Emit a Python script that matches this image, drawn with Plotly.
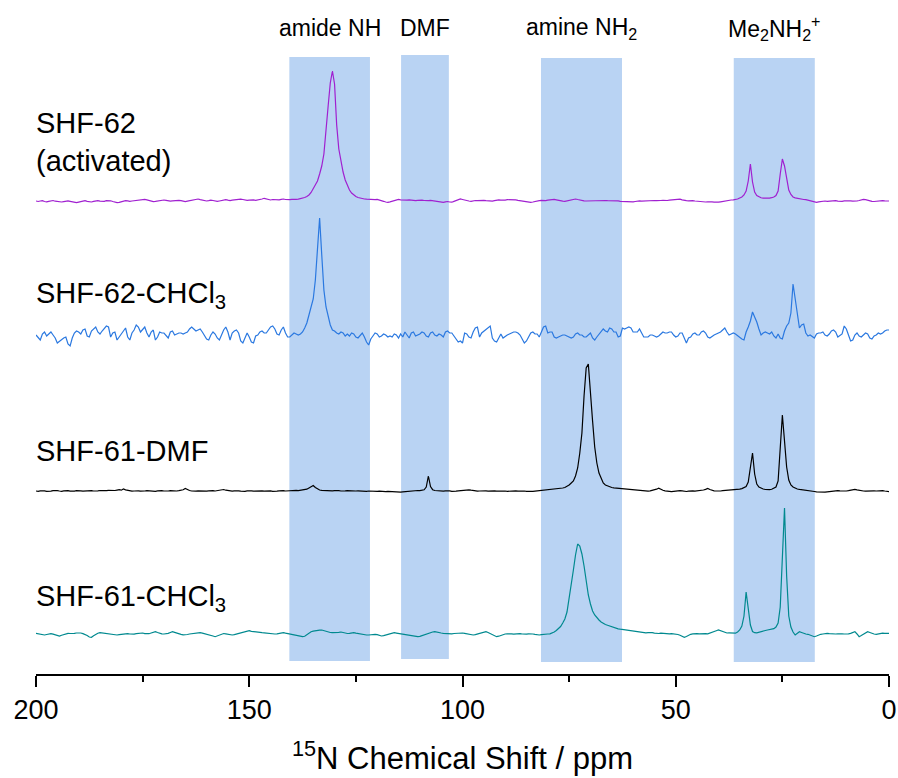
import numpy as np
import plotly.graph_objects as go

# 15N CP-MAS spectra, 0.5 ppm sampling from 200 to 0 ppm (401 points each)
ppm = np.linspace(200, 0, 401)

# Intensities (a.u.) above each trace's baseline, 200 -> 0 ppm
shf62_activated = [
    0, -0.5, 0, 0.3, -0.5, -0.8, -0.3, 0, 0.5, -0.2, -0.7, -0.5, -1, -0.6, -0.2, 0.2, -0.3, -0.8, -1.3, -1.7, -1.2,
    -0.5, 0, 0.3, -0.3, -0.8, -1, -0.4, 0.2, 0.4, -0.2, -0.6, -0.3, 0.3, 0.6, 0.2, -0.5, -1.2, -1.7, -1.3, -0.6,
    0, 0.4, 0.2, -0.3, 0, 0.4, 0.2, 0.5, 1, 1.3, 1.7, 1.2, 0.4, -0.3, -0.6, -0.4, 0, 0.2, 0.6, 1,
    0.7, 0.2, -0.2, 0.1, 0.5, 0.3, 0.7, 0.4, -0.3, -0.6, -0.2, 0.3, 0.7, 1.1, 1.5, 2, 1.4, 0.7, 0.2, 0,
    0.3, 0.9, 0.5, 0, -0.4, 0, 0.4, 0.9, 1.3, 0.8, 0.4, 0.8, 1.2, 0.9, 1.4, 1.8, 1.5, 1, 0.6, 0.9,
    1.3, 1.1, 0.7, 1, 1.5, 2, 2.7, 2, 1.2, 1, 1.5, 1.3, 0.8, 1.2, 1.7, 2, 1.5, 1.2, 1.4, 1.6,
    1.4, 1.6, 1.8, 2.2, 2.6, 3.5, 4.5, 6, 8.5, 12, 16, 20, 27, 35, 47, 68, 95, 118, 130, 117,
    76, 52, 38, 29, 21, 15, 11, 8, 6, 4.5, 3.5, 2.8, 2.3, 2, 1.8, 1.5, 1.2, 1, 1.3, 1.6,
    1.2, 0.5, -0.3, -1, -1.3, -0.8, 0, 0.8, 1.5, 1.7, 1.2, 1, 0.6, 0.8, 1.2, 0.9, 0.5, 0.3, 0.7, 1,
    0.8, 0.5, 0.2, 0.4, 0.6, 0.3, -0.2, -0.6, -1, -1.2, -1.3, -0.8, -0.5, -1, -1.2, -0.4, 0.5, 1.3, 2, 1.5,
    0.8, 0.3, 0, -0.3, 0.2, 0.5, 0.3, 0.6, 1, 0.7, 0.3, 0, -0.4, -0.2, 0.4, 0.9, 1.2, 0.8, 0.5, 0.9,
    1.3, 1.2, 1.5, 1.7, 1.2, 0.6, 0.2, 0.4, 0.1, -0.4, -0.9, -1.3, -1, -0.3, 0.2, 0.4, 0.6, 0.2, 0.4, 0.9,
    1.3, 1.5, 1.7, 1.2, 0.6, 0.2, -0.2, -0.3, 0.1, 0.6, 1.2, 1.6, 2, 1.5, 0.9, 0.4, 0.2, 0, 0.1, 0.4,
    0.6, 0.4, 0.2, 0.7, 1, 0.8, 0.5, 0.3, 0.4, 0.2, 0, 0.3, 0.1, -0.3, -0.5, -0.2, -0.6, -1.1, -1.3, -0.9,
    -0.5, -0.1, 0.1, -0.2, 0, 0.2, 0.1, 0.3, 0.2, 0.5, 0.4, 0.2, 0.5, 0.6, 0.4, 0.5, 0.8, 1.1, 1.5, 1.9,
    2.3, 1.9, 1.2, 0.6, 0.3, 0.2, 0.5, 0.3, 0, -0.3, -0.2, -0.4, -0.8, -1, -0.8, -0.5, -0.8, -1.1, -1.3, -1.2,
    -0.8, -0.3, 0.1, 0.3, 0.6, 1, 1.2, 1.5, 2, 3, 4, 6, 10, 20, 37, 19, 9, 5.5, 4, 3.2,
    2.8, 2.6, 2.6, 2.8, 3.3, 4, 5.5, 10, 27, 42, 35, 22, 11, 6.5, 4, 3.2, 2.6, 2.2, 1.8, 1.5,
    1.3, 0.8, 0.2, -0.4, -0.9, -1.3, -0.8, -0.3, 0.2, 0, -0.4, -0.2, 0.3, 0.6, 0.3, -0.2, -0.5, -0.3, 0.1, 0.3,
    0.5, 0.2, -0.2, -0.4, 0, 0.5, 1, 1.7, 1.3, 0.6, 0.1, -0.3, -0.5, -0.2, 0.2, 0.4, 0.3, 0.1, 0.2, 0,
]

shf62_chcl3 = [
    0, -3, -5, 1, 3, -1, 1, 3, 0, -3, -8, -6, -5, -3, -2, -9, -11, -3, 2, 4, 3,
    1, 5, 6, -1, -2, 4, 6, 8, 3, 1, 4, 7, 9, 8, -2, 2, 3, -5, -2, 2,
    5, 7, -2, -5, 2, 5, 10, 8, 3, 5, 8, 2, -2, 3, 5, -5, -2, 3, 2, 2,
    -1, -3, 3, 4, 0, 1, 2, 2, 1, 2, 3, 6, 8, 6, 4, 5, 6, 3, 0, -4,
    -5, 0, 3, 1, -3, -5, 0, 5, 8, 3, -5, 2, 4, 5, 2, -6, -8, -3, 2, -2,
    -7, -8, -1, 0, 3, 4, 2, 2, 5, 8, 9, 6, 1, 0, 5, 8, 2, -2, -2, 0,
    2, 1, 0, 1, 3, 7, 12, 20, 28, 36, 55, 90, 117, 80, 45, 28, 20, 10, 5, 4,
    2, 1, 3, 2, -1, 1, -1, 2, 1, -2, -3, 0, 2, -2, -7, -10, -4, -1, 2, 1,
    -2, -1, 1, 0, -2, -1, -2, 1, 0, -3, 1, -2, 3, 0, -3, 2, 3, -1, 0, 1,
    3, 2, -1, -2, 2, 3, 0, -1, 1, 0, -2, 3, 4, 2, 2, -1, -4, -7, -6, -8,
    2, 1, -2, -3, 3, 7, 8, -2, 2, 4, 6, 8, 9, -3, -6, -7, -3, 1, -3, -1,
    0, 1, 2, 3, 3, 2, 0, -4, -8, -6, -2, 2, 3, 1, 1, -2, 3, 8, 9, 2,
    3, 3, -2, -3, -2, -1, 0, 0, -1, -2, -3, -2, 1, 2, 0, 0, -2, -2, 0, 2,
    -3, -5, -2, 1, 3, 6, 4, 3, 7, 6, 3, 3, -2, -1, 7, 6, 7, 8, 7, 3,
    3, 3, 6, 2, -2, -2, -2, 0, 0, -1, -2, -1, 1, 3, 2, 2, 3, 3, 0, -2,
    -1, 2, 2, -4, -8, -3, -2, 1, 2, 0, 0, 3, 4, 2, -2, -3, -1, 0, 1, 2,
    3, 5, 7, 3, 0, 1, 2, 1, -1, -2, -4, -5, 3, 8, 14, 23, 18, 13, 6, 0,
    2, 3, 2, 1, 3, -1, -3, 1, -3, -4, 4, 9, 12, 22, 51, 35, 20, 7, 10, 11,
    2, -1, 0, -2, -3, 1, 2, 2, 3, 0, -1, 1, 4, 5, 3, -2, 0, 1, 9, 6,
    0, -6, -5, 0, 2, -1, -2, 0, 2, 1, -3, -4, -1, 0, 2, 1, 2, 4, 5, 5,
]

shf61_dmf = [
    0, -0.3, 0.2, 0.5, 0.2, -0.3, -0.6, -0.2, 0.3, 0.6, 0.4, 0, -0.3, 0.2, 0.6, 0.3, -0.2, -0.5, -0.2, 0.3, 0.5,
    0.2, -0.2, 0, 0.4, 0.7, 0.4, 0, -0.3, 0.1, 0.5, 0.3, 0, 0.3, 0.6, 0.4, 0.2, 0.5, 0.9, 1.3, 0.8,
    2, 1.2, 0.5, 0.1, -0.2, 0, 0.4, 0.2, -0.2, -0.4, 0, 0.3, 0.1, -0.3, -0.6, -0.3, 0.2, 0.5, 0.3, 0,
    -0.3, 0, 0.4, 0.2, -0.2, 0, 0.3, 0.6, 1.2, 2.5, 1.3, 0.5, 0, -0.4, -0.2, 0.2, 0, -0.3, -0.5, -0.2,
    0.2, 0.5, 0.3, 0, 0.3, 0.6, 0.9, 1.5, 0.8, 0.3, 0, -0.2, 0.1, 0.4, 0.2, -0.2, -0.5, -0.3, 0.1, 0.3,
    0.1, -0.2, 0, 0.3, 0.5, 0.2, -0.1, 0.2, 0.4, 0.1, -0.3, -0.5, -0.2, 0.2, 0.5, 0.3, 0, 0.2, 0.4, 0.3,
    0.4, 0.6, 0.3, 0.5, 0.8, 1.2, 1.8, 3, 4.5, 5.5, 3.5, 1.8, 1, 0.6, 0.4, 0.5, 0.7, 0.4, 0.2, 0.3,
    0.5, 0.3, 0, -0.2, 0.1, 0.4, 0.2, -0.1, -0.3, 0, 0.2, -0.1, -0.4, -0.6, -0.3, 0, -0.2, -0.5, -0.7, -0.4,
    -0.2, -0.5, -0.8, -0.6, -0.3, -0.5, -0.9, -1.1, -0.8, -1, -1.2, -0.9, -0.6, -0.3, 0, 0.3, 0.6, 0.8, 0.5, 0.3,
    0.5, 1.2, 4, 15, 4.5, 1.3, 0.5, 0.2, -0.2, -0.4, -0.2, 0.1, 0.3, 0.1, -0.3, -0.5, -0.2, 0.2, 0.5, 0.8,
    0.6, 0.9, 1.2, 0.8, 0.4, 0.1, -0.2, 0, 0.3, 0.5, 0.2, -0.1, 0.2, 0.4, 0.1, -0.2, 0, 0.3, 0.2, 0,
    -0.3, 0, 0.2, 0.4, 0.2, -0.1, 0.1, 0.3, 0, -0.3, -0.5, -0.6, -0.4, -0.2, 0, 0.3, 0.5, 0.7, 0.9, 1.1,
    1.2, 1.4, 1.6, 1.9, 2.2, 2.6, 3, 3.5, 4.5, 6, 8, 10, 15, 23, 38, 58, 95, 123, 127, 95,
    70, 44, 28, 18, 12, 8, 6, 5, 4, 3.5, 3.2, 3, 2.7, 2.5, 2.2, 2, 1.7, 1.5, 1.2, 1,
    0.8, 0.5, 0.2, 0, -0.2, -0.4, -0.2, 0.2, 0.6, 1.2, 1.8, 2.8, 1.6, 0.7, 0.2, -0.2, -0.4, -0.6, -0.3, 0,
    0.2, 0.4, 0.1, -0.3, -0.5, -0.2, 0.2, 0.1, -0.2, 0, 0.3, 0.6, 1, 1.6, 2.6, 1.5, 0.6, 0.2, 0, -0.2,
    0, 0.3, 0.5, 0.4, 0.2, 0.5, 0.8, 1.1, 1.4, 1.8, 2.4, 3.3, 4.5, 9, 22, 38, 17, 7, 4, 2.8,
    2, 1.5, 1.2, 1.3, 1.7, 2.5, 4, 10, 41, 76, 50, 24, 11, 6, 4, 2.8, 2, 1.6, 1.2, 0.8,
    0.5, 0.2, 0, -0.3, -0.5, -0.8, -1, -1.3, -1.5, -1.2, -0.8, -0.5, -0.2, 0, 0.2, 0.4, 0.2, -0.1, -0.3, 0,
    0.3, 0.8, 1.3, 1.7, 1.2, 0.6, 0.2, 0, -0.2, 0, 0.3, 0.5, 0.2, 0, 0.3, 0.6, 0.4, 0, -0.4, -0.6,
]

shf61_chcl3 = [
    0.7, 0.3, -0.3, -0.8, -1, -0.5, 0, 0.3, -0.2, -0.8, -1.5, -2, -1.2, -0.4, 0.3, 0.7, 0.5, 0.2, 0.6, 1, 1.3,
    1, 0.4, -0.2, -1.5, -3, -3.3, -1.8, -0.2, 0.8, 1.3, 1, 0.4, 0, -0.3, -0.1, -0.4, -0.8, -1, -0.6, -0.2,
    0.3, 0.6, 0.4, 0, -0.3, -0.1, 0.3, 0.6, 1.2, 1, 0.4, 0, 0.3, 1, 1.8, 2.3, 1.5, 0.6, 0.1, 0,
    0.2, 0.6, 1.5, 2.3, 1.6, 0.7, 0.2, -0.4, -0.9, -1, -0.5, 0, 0.3, 0.2, 0.5, 0.9, 1.3, 0.9, 0.4, 0.1,
    -0.3, -1, -2, -2.7, -1.8, -0.6, 0.3, 0.5, 0.1, -0.3, -0.8, -1, -0.6, 0, 0.6, 0.8, 1.3, 2, 2.8, 3.3,
    2.6, 2.2, 2, 1.8, 1.5, 1.3, 1.2, 0.9, 0.5, 0.2, 0, 0, 0.2, 0.6, 1, 1.3, 0.8, 0.3, 0, -0.2,
    -0.5, -1, -1.5, -2.2, -2.7, -2.3, -0.8, 0.8, 2.3, 2.8, 3.3, 3.6, 3.9, 4, 3.2, 2.4, 1.8, 1.5, 1.3, 1.2,
    1.4, 1.7, 2, 1.5, 0.9, 0.5, 0.7, 1, 1.3, 0.8, 0.3, 0, -0.3, -0.6, -1, -1, -0.6, -0.2, -0.3, -0.7,
    -1.3, -2, -1.7, -1.2, -0.6, 0, 0.8, 1.3, 0.9, 0.5, 0.3, 0, -0.3, -0.7, -1.3, -2, -2.4, -2.6, -2.7, -2.3,
    -1.5, -0.5, 0.3, 0.8, 1.5, 2, 2.3, 1.7, 1.3, 1, 0.7, 0.4, 0.2, 0, 0.2, 0.5, 0.8, 1.1, 1.3, 1,
    0.6, 0.1, -0.3, -0.7, -1, -0.6, 0, 0.6, 1.2, 1.8, 2.3, 1.5, 0.5, -0.6, -1.8, -2.7, -2.2, -1.3, -0.5, 0,
    0.2, 0.4, 0.1, -0.2, 0.1, 0.5, 0.3, 0, -0.3, -0.2, 0.2, 0.4, 0, -0.4, -0.8, -1, -0.6, -0.2, 0, 0,
    0.2, 0.8, 2, 3.5, 5.5, 7.5, 11, 15, 22, 35, 49, 64, 79, 90, 88, 80, 68, 54, 39, 30,
    23, 19, 16, 14, 12, 10.5, 9.5, 8.8, 8, 7.3, 6.5, 5.8, 5.2, 4.8, 4.5, 4.2, 4, 3.8, 3.4, 3,
    2.6, 2.2, 1.8, 1.4, 1.3, 1.2, 1.3, 1.5, 1.3, 0.8, 0.4, 0.5, 0.8, 0.5, 0.1, -0.2, 0.1, 0.3, 0.2, 0,
    -0.5, -1.3, -2.5, -3.3, -2.5, -1.2, -0.3, 0.2, 0.5, 0.3, 0.1, 0.4, 0.6, 0.3, 0.2, 0.8, 1.7, 2.5, 3.3, 4,
    3.2, 2, 1.2, 1, 1.1, 1, 0.8, 0.8, 2, 4, 8, 18, 42, 24, 9, 2.5, 1.3, 1.2, 1.6, 2.5,
    3, 3.5, 4, 4.5, 5, 5.3, 7, 11, 27, 80, 126, 58, 18, 7, 2, -1, 0.5, 2.3, 1.5, 0.5,
    0, -0.3, -1, -2, -2.7, -2, -1, -0.3, 0, 0.4, 0.6, 0.3, 0, -0.3, 0, 0.2, 0.4, 0.2, 0, -0.2,
    0.1, 0.6, 1.3, 2.3, 0, -2.7, -1.5, 0, 1, 2.3, 1.5, 0.6, 0, -0.3, 0.3, 0.6, 0.8, 0.7, 0.5, 0.7,
]

labels = ["SHF-62<br>(activated)", "SHF-62-CHCl<sub>3</sub>", "SHF-61-DMF", "SHF-61-CHCl<sub>3</sub>"]
spectra = [shf62_activated, shf62_chcl3, shf61_dmf, shf61_chcl3]
offsets = [473, 339, 183, 40]
colors = ["#a020d0", "#2a78e0", "#000000", "#00898f"]
label_y = [532, 379, 223, 76]

# Assignment regions (ppm) and their labels
regions = [(140.6, 121.7), (114.4, 103.2), (81.6, 62.6), (36.4, 17.4)]
region_labels = ["amide NH", "DMF", "amine NH<sub>2</sub>", "Me<sub>2</sub>NH<sub>2</sub><sup>+</sup>"]
region_y = [(13, 617), (15, 619), (12, 616), (12, 616)]

FONT = "Liberation Sans, Arial, Helvetica, sans-serif"

fig = go.Figure()

for vals, off, col in zip(spectra, offsets, colors):
    assert len(vals) == len(ppm)
    fig.add_trace(go.Scatter(
        x=ppm, y=np.array(vals) + off, mode="lines",
        line=dict(color=col, width=1.2), hoverinfo="skip", showlegend=False,
    ))

for (x0, x1), (y0, y1), txt in zip(regions, region_y, region_labels):
    fig.add_shape(type="rect", xref="x", yref="y", x0=x0, x1=x1, y0=y0, y1=y1,
                  fillcolor="#b9d3f3", line=dict(width=0), layer="below")
    fig.add_annotation(x=(x0 + x1) / 2, y=646, xref="x", yref="y", text=txt,
                       showarrow=False, xanchor="center", yanchor="middle",
                       font=dict(family=FONT, size=23, color="black"))

for txt, ly in zip(labels, label_y):
    fig.add_annotation(x=0, y=ly, xref="paper", yref="y", xshift=-2, text=txt,
                       showarrow=False, xanchor="left", yanchor="middle", align="left",
                       font=dict(family=FONT, size=29, color="black"))

fig.update_layout(
    width=898, height=778,
    margin=dict(l=36, r=9, t=0, b=104),
    paper_bgcolor="white", plot_bgcolor="white",
    font=dict(family=FONT, color="black"),
    xaxis=dict(
        range=[200, 0], showgrid=False, zeroline=False,
        showline=True, linecolor="black", linewidth=1.5,
        ticks="outside", ticklen=11, tickwidth=1.5, tickcolor="black",
        tickvals=[200, 150, 100, 50, 0], ticktext=["200", "150", "100", "50", "0"],
        tickfont=dict(family=FONT, size=27, color="black"),
        minor=dict(tickvals=[175, 125, 75, 25], ticks="outside", ticklen=6,
                   tickwidth=1.5, tickcolor="black"),
        title=dict(text="<sup>15</sup>N Chemical Shift / ppm",
                   font=dict(family=FONT, size=31, color="black"), standoff=23),
    ),
    yaxis=dict(range=[0, 674], visible=False),
)

fig.write_html("out.html")
